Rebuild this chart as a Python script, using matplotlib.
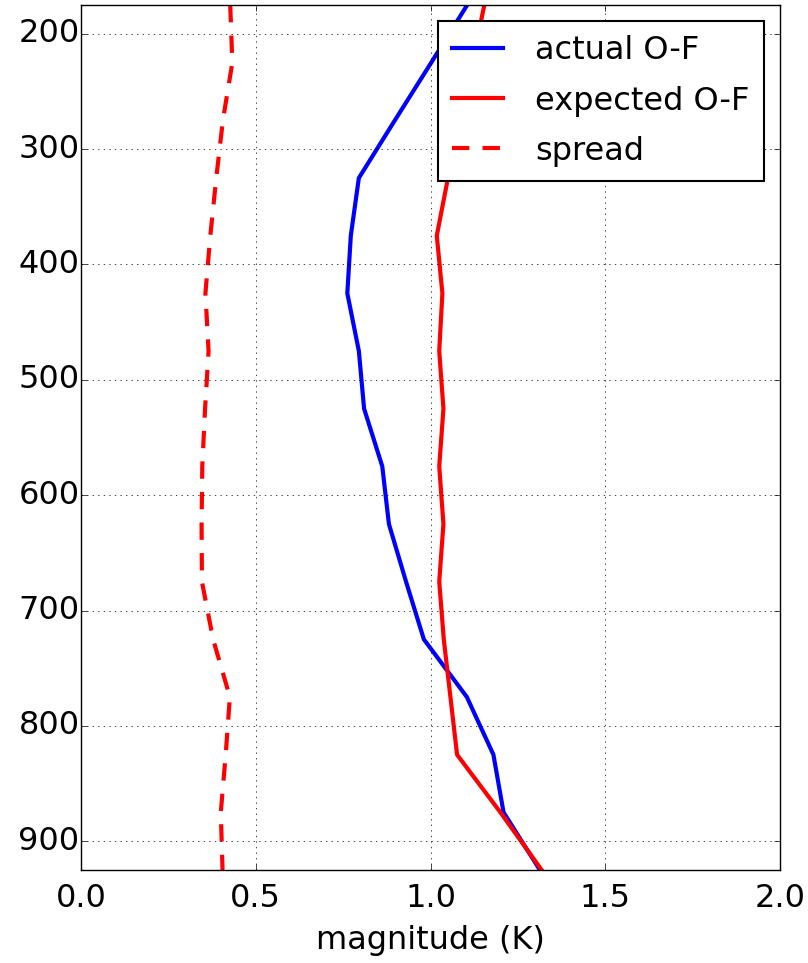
import matplotlib
matplotlib.use("Agg")
import matplotlib.pyplot as plt

plt.style.use("classic")
plt.rcParams["lines.scale_dashes"] = False

# pressure levels (hPa)
levels = [175, 225, 275, 325, 375, 425, 475, 525, 575, 625, 675, 725, 775, 825, 875, 925]

actual_of = [1.105, 1.002, 0.898, 0.795, 0.772, 0.762, 0.795, 0.81,
             0.862, 0.881, 0.93, 0.981, 1.104, 1.18, 1.209, 1.313]
expected_of = [1.154, 1.12, 1.085, 1.05, 1.018, 1.034, 1.025, 1.037,
               1.025, 1.037, 1.025, 1.038, 1.057, 1.076, 1.20, 1.318]
spread = [0.427, 0.433, 0.406, 0.387, 0.37, 0.356, 0.365, 0.355,
          0.347, 0.345, 0.346, 0.378, 0.426, 0.414, 0.40, 0.405]

fig = plt.figure(figsize=(8.08, 9.63), dpi=100, facecolor="white")
ax = fig.add_axes([81 / 808, 1 - 870 / 963, 699 / 808, 865 / 963])

ax.plot(actual_of, levels, color="b", lw=3, label="actual O-F")
ax.plot(expected_of, levels, color="r", lw=3, label="expected O-F")
ax.plot(spread, levels, color="r", lw=3, ls=(0, (12.5, 9.5)), label="spread")

ax.set_xlim(0, 2)
ax.set_ylim(925, 175)
ax.set_xticks([0.0, 0.5, 1.0, 1.5, 2.0])
ax.set_yticks(range(200, 901, 100))
ax.tick_params(labelsize=23)
ax.tick_params(axis="x", pad=9)
ax.tick_params(axis="y", pad=1)
ax.set_xlabel("magnitude (K)", fontsize=23, labelpad=8)
ax.grid(True)

leg = ax.legend(loc="upper right", fontsize=23, numpoints=1, handlelength=1.6,
                handletextpad=1.0, borderpad=0.45, labelspacing=0.6)
leg.get_frame().set_linewidth(1.5)

fig.savefig("out.png", dpi=100)
